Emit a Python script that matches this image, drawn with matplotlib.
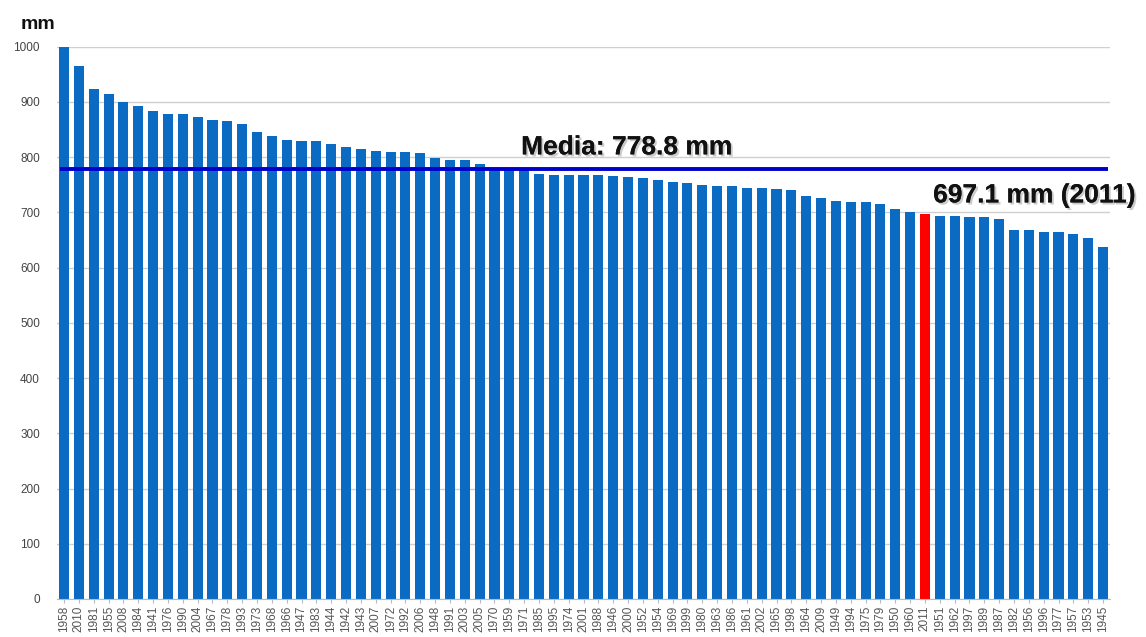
import numpy as np
import matplotlib.pyplot as plt
import matplotlib.patheffects as pe

plt.rcParams["font.family"] = ["Liberation Sans", "DejaVu Sans"]

# Annual rainfall, years sorted from wettest to driest
years = ["1958", "2010", "1981", "1955", "2008", "1984", "1941", "1976", "1990", "2004",
         "1967", "1978", "1993", "1973", "1968", "1966", "1947", "1983", "1944", "1942",
         "1943", "2007", "1972", "1992", "2006", "1948", "1991", "2003", "2005", "1970",
         "1959", "1971", "1985", "1995", "1974", "2001", "1988", "1946", "2000", "1952",
         "1954", "1969", "1999", "1980", "1963", "1986", "1961", "2002", "1965", "1998",
         "1964", "2009", "1949", "1994", "1975", "1979", "1950", "1960", "2011", "1951",
         "1962", "1997", "1989", "1987", "1982", "1956", "1996", "1977", "1957", "1953",
         "1945"]
rain = [1000, 965, 923, 915, 900, 893, 884, 878, 878, 872,
        868, 866, 860, 845, 839, 831, 830, 830, 824, 819,
        815, 812, 809, 809, 807, 799, 795, 795, 788, 781,
        780, 779, 770, 767, 767, 767, 767, 766, 764, 762,
        759, 755, 753, 750, 748, 748, 745, 744, 742, 740,
        730, 726, 721, 718, 718, 715, 706, 700, 697.1, 694,
        694, 692, 692, 688, 668, 668, 665, 664, 661, 653,
        638]
media = 778.8
highlight = "2011"

colors = ["#ff0000" if y == highlight else "#0b6bc3" for y in years]
x = np.arange(len(years))

fig = plt.figure(figsize=(11.46, 6.37), dpi=100)
ax = fig.add_axes([0.0494, 0.0597, 0.9196, 0.867])

ax.bar(x, rain, width=0.68, color=colors, zorder=2)
ax.set_xlim(-0.5, len(years) - 0.5)
ax.set_ylim(0, 1000)
ax.set_yticks(np.arange(0, 1001, 100))
ax.tick_params(axis="y", labelsize=8.5, colors="#444444", length=0, pad=12)
ax.set_xticks(x)
ax.set_xticklabels(years, rotation=90, fontsize=8.5, color="#555555")
ax.tick_params(axis="x", length=3, color="#bbbbbb", pad=2)
ax.grid(axis="y", color="#cfcfcf", linewidth=1, zorder=0)
for side in ["top", "right", "left"]:
    ax.spines[side].set_visible(False)
ax.spines["bottom"].set_color("#bbbbbb")

# mean line and labels
ax.hlines(media, -0.3, len(years) - 0.7, color="#0000cc", linewidth=2.8, zorder=3)
shadow = [pe.withSimplePatchShadow(offset=(1.5, -1.5), shadow_rgbFace="#999999", alpha=0.5), pe.Normal()]
ax.text(37.9, 805, f"Media: {media} mm", fontsize=19, fontweight="bold",
        ha="center", va="baseline", color="#111111", path_effects=shadow)
i = years.index(highlight)
ax.text(i + 0.55, 718, f"{rain[i]} mm ({highlight})", fontsize=19, fontweight="bold",
        ha="left", va="baseline", color="#111111", path_effects=shadow, clip_on=False)

fig.text(0.018, 0.955, "mm", fontsize=14, fontweight="bold", color="#111111")

plt.savefig("out.png", dpi=100)
